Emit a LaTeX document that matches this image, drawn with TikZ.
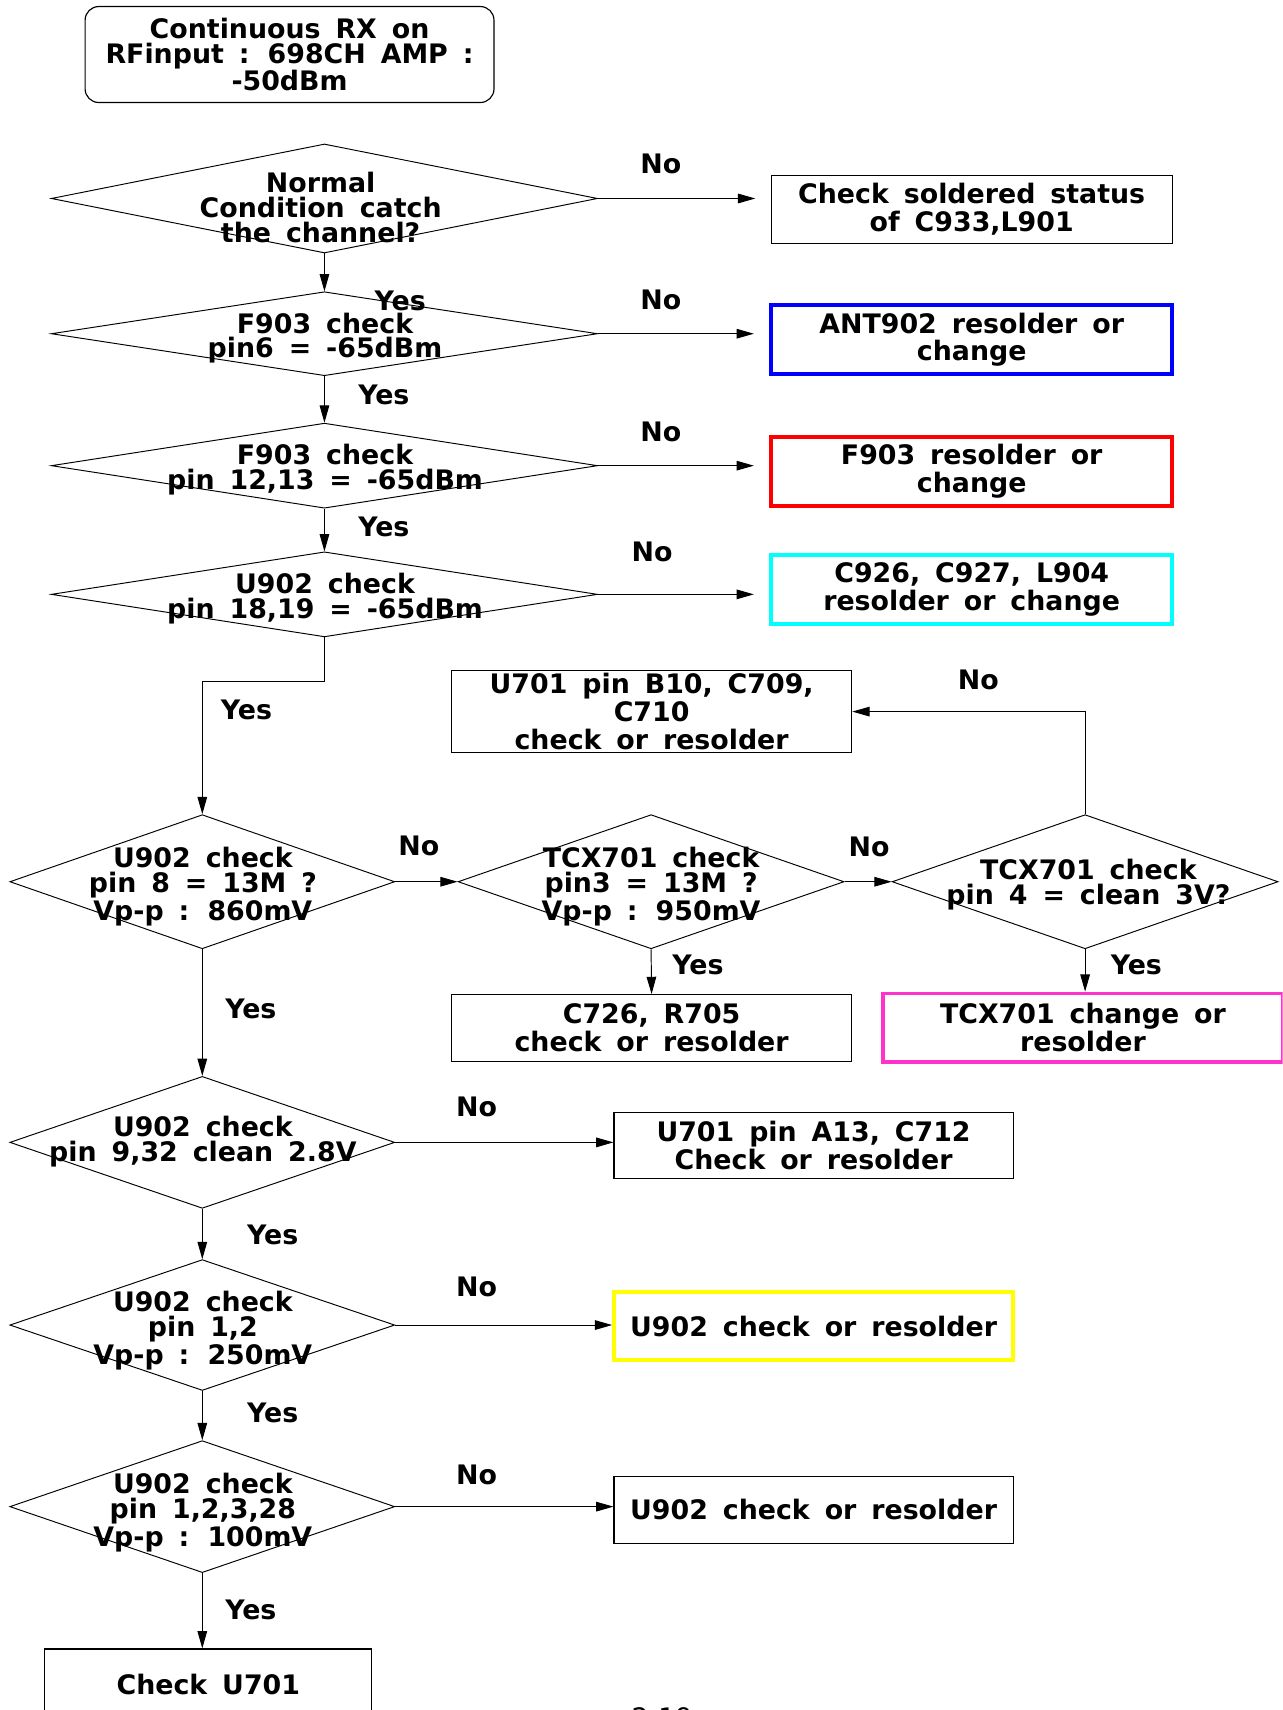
\documentclass[tikz,border=0pt]{standalone}
\usepackage{fontspec}
\setmainfont{DejaVu Sans}[WordSpace=1.6]
\usepackage{tikz}
\usetikzlibrary{arrows.meta,positioning,calc,shapes.geometric}
\definecolor{hotblue}{RGB}{0,0,255}
\definecolor{hotred}{RGB}{255,0,0}
\definecolor{hotcyan}{RGB}{0,255,255}
\definecolor{hotpink}{RGB}{255,51,204}
\definecolor{hotyellow}{RGB}{255,255,0}
\newcommand{\chartfont}{\bfseries\fontsize{14}{13}\selectfont}
\newcommand{\boxfont}{\bfseries\fontsize{14}{14.6}\selectfont}
\tikzset{
  decis/.style={diamond, draw, line width=0.5pt, inner sep=0pt},
  dtext/.style={font=\chartfont, align=center, inner sep=0pt},
  act/.style={rectangle, draw, line width=0.6pt, inner sep=0pt,
              align=center, font=\boxfont},
  hot/.style={act, line width=2pt, draw=#1},
  yn/.style={font=\chartfont, inner sep=0pt},
  flow/.style={-{Triangle[length=9pt,width=5pt]}, line width=0.5pt},
}

\begin{document}
\begin{tikzpicture}[x=0.02cm, y=-0.02cm]
  \clip (0,0) rectangle (1176,1568);
  % start
  \node[act, font=\chartfont, rounded corners=0.25cm, minimum width=7.5cm, minimum height=1.76cm] (start) at (265.5,50)
       {Continuous RX on\\RFinput : 698CH AMP :\\-50dBm};
  % main column of checks
  \node[decis, minimum width=10.02cm, minimum height=2cm] (d1) at (297.5,182) {};
  \node[dtext] (d1t) at (294,190) {Normal\\Condition catch\\the channel?};
  \node[decis, minimum width=10.02cm, minimum height=1.54cm] (d2) at (297.5,306) {};
  \node[dtext] (d2t) at (298,310) {F903 check\\pin6 = -65dBm};
  \node[decis, minimum width=10.02cm, minimum height=1.56cm] (d3) at (297.5,427) {};
  \node[dtext] (d3t) at (298,431) {F903 check\\pin 12,13 = -65dBm};
  \node[decis, minimum width=10.02cm, minimum height=1.56cm] (d4) at (297.5,545) {};
  \node[dtext] (d4t) at (298,549) {U902 check\\pin 18,19 = -65dBm};
  % repair boxes on the right
  \node[act, minimum width=7.36cm, minimum height=1.24cm] (b1) at (891,192)
       {Check soldered status\\of C933,L901};
  \node[hot=hotblue, minimum width=7.36cm, minimum height=1.26cm] (b2) at (891,311.5)
       {ANT902 resolder or\\change};
  \node[hot=hotred, minimum width=7.36cm, minimum height=1.26cm] (b3) at (891,432.5)
       {F903 resolder or\\change};
  \node[hot=hotcyan, minimum width=7.36cm, minimum height=1.26cm] (b4) at (891,540.5)
       {C926, C927, L904\\resolder or change};
  % 13M clock
  \node[decis, minimum width=7.06cm, minimum height=2.46cm] (d5) at (185.5,808.5) {};
  \node[dtext] (d5t) at (186,813) {U902 check\\pin 8 = 13M ?\\Vp-p : 860mV};
  \node[decis, minimum width=7.08cm, minimum height=2.46cm] (d6) at (597,808.5) {};
  \node[dtext] (d6t) at (597,813) {TCX701 check\\pin3 = 13M ?\\Vp-p : 950mV};
  \node[decis, minimum width=7.08cm, minimum height=2.46cm] (d7) at (995,808.5) {};
  \node[dtext] (d7t) at (998,811) {TCX701 check\\pin 4 = clean 3V?};
  \node[act, minimum width=7.34cm, minimum height=1.5cm] (b5) at (597.5,652.5)
       {U701 pin B10, C709,\\C710\\check or resolder};
  \node[act, minimum width=7.34cm, minimum height=1.22cm] (b6) at (597.5,942.5)
       {C726, R705\\check or resolder};
  \node[hot=hotpink, minimum width=7.32cm, minimum height=1.26cm] (b7) at (993,942.5)
       {TCX701 change or\\resolder};
  % lower column
  \node[decis, minimum width=7.06cm, minimum height=2.42cm] (d8) at (185.5,1047.5) {};
  \node[dtext] (d8t) at (186,1047) {U902 check\\pin 9,32 clean 2.8V};
  \node[decis, minimum width=7.06cm, minimum height=2.4cm] (d9) at (185.5,1215) {};
  \node[dtext] (d9t) at (186,1220) {U902 check\\pin 1,2\\Vp-p : 250mV};
  \node[decis, minimum width=7.06cm, minimum height=2.42cm] (d10) at (185.5,1381.5) {};
  \node[dtext] (d10t) at (186,1387) {U902 check\\pin 1,2,3,28\\Vp-p : 100mV};
  \node[act, minimum width=7.32cm, minimum height=1.22cm] (b8) at (746,1050.5)
       {U701 pin A13, C712\\Check or resolder};
  \node[hot=hotyellow, minimum width=7.32cm, minimum height=1.24cm] (b9) at (746,1216)
       {U902 check or resolder};
  \node[act, minimum width=7.32cm, minimum height=1.22cm] (b10) at (746,1384.5)
       {U902 check or resolder};
  \node[act, minimum width=6cm, minimum height=1.32cm] (b11) at (191,1545) {Check U701};
  % connectors
  \draw[flow, shorten >=0.28cm] (d1.east) -- (d1.east -| b1.west);
  \draw[flow, shorten >=0.28cm] (d2.east) -- (d2.east -| b2.west);
  \draw[flow, shorten >=0.28cm] (d3.east) -- (d3.east -| b3.west);
  \draw[flow, shorten >=0.28cm] (d4.east) -- (d4.east -| b4.west);
  \draw[flow] (d1.south) -- (d2.north);
  \draw[flow] (d2.south) -- (d3.north);
  \draw[flow] (d3.south) -- (d4.north);
  \draw[flow] (d4.south) -- ++(0,40) -| (d5.north);
  \draw[flow] (d5.east) -- (d6.west);
  \draw[flow] (d6.east) -- (d7.west);
  \draw[flow] (d7.north) |- (b5.east);
  \draw[flow] (d6.south) -- (b6.north);
  \draw[flow] (d7.south) -- (d7.south |- b7.north);
  \draw[flow] (d5.south) -- (d8.north);
  \draw[flow] (d8.east) -- (d8.east -| b8.west);
  \draw[flow] (d8.south) -- (d9.north);
  \draw[flow] (d9.east) -- (d9.east -| b9.west);
  \draw[flow] (d9.south) -- (d10.north);
  \draw[flow] (d10.east) -- (d10.east -| b10.west);
  \draw[flow] (d10.south) -- (d10.south |- b11.north);
  % yes / no
  \node[yn] (no1) at (606,150) {No};
  \node[yn] (yes1) at (367,276) {Yes};
  \node[yn] (no2) at (606,275) {No};
  \node[yn] (yes2) at (352,362) {Yes};
  \node[yn] (no3) at (606,396) {No};
  \node[yn] (yes3) at (352,483) {Yes};
  \node[yn] (no4) at (598,506) {No};
  \node[yn] (yes4) at (226,651) {Yes};
  \node[yn] (no5) at (897,623) {No};
  \node[yn] (no6) at (384,776) {No};
  \node[yn] (no7) at (797,777) {No};
  \node[yn] (yes5) at (640,885) {Yes};
  \node[yn] (yes6) at (1042,885) {Yes};
  \node[yn] (yes7) at (230,925) {Yes};
  \node[yn] (no8) at (437,1015) {No};
  \node[yn] (yes8) at (250,1132) {Yes};
  \node[yn] (no9) at (437,1180) {No};
  \node[yn] (yes9) at (250,1296) {Yes};
  \node[yn] (no10) at (437,1352) {No};
  \node[yn] (yes10) at (230,1476) {Yes};
  % page number
  \node[font=\fontsize{14}{14}\selectfont, inner sep=0pt] (page) at (607,1575) {2-19};
\end{tikzpicture}
\end{document}
